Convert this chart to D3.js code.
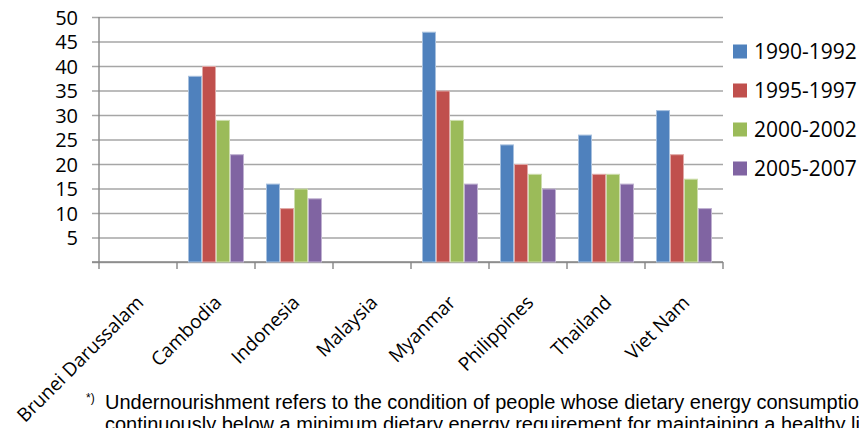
<!DOCTYPE html>
<html>
<head>
<meta charset="utf-8">
<script src="https://cdn.jsdelivr.net/npm/d3@7"></script>
<style>
  html, body { margin: 0; padding: 0; background: #fff; overflow: hidden; }
  svg { display: block; }
</style>
</head>
<body>
<svg id="chart" width="859" height="428"></svg>
<script>
// Prevalence of undernourishment (%) by country and period
const countries = ["Brunei Darussalam", "Cambodia", "Indonesia", "Malaysia",
                   "Myanmar", "Philippines", "Thailand", "Viet Nam"];
const periods = ["1990-1992", "1995-1997", "2000-2002", "2005-2007"];
const values1990 = [null, 38, 16, null, 47, 24, 26, 31];
const values1995 = [null, 40, 11, null, 35, 20, 18, 22];
const values2000 = [null, 29, 15, null, 29, 18, 18, 17];
const values2005 = [null, 22, 13, null, 16, 15, 16, 11];
const yTicks = [0, 5, 10, 15, 20, 25, 30, 35, 40, 45, 50];
const footnoteMark = "*)";
const footnoteLines = [
  "Undernourishment refers to the condition of people whose dietary energy consumption is",
  "continuously below a minimum dietary energy requirement for maintaining a healthy life"
];

const seriesValues = [values1990, values1995, values2000, values2005];
const colors = ["#4F81BD", "#C0504D", "#9BBB59", "#8064A2"];
const edgeColors = ["#A7C0DE", "#E0A8A6", "#CDDDAC", "#BFB1D0"];

const svg = d3.select("#chart");
const plot = { left: 99, right: 723, top: 17, bottom: 262 };
const uiFont = "'Open Sans', 'Noto Sans', sans-serif";

const y = d3.scaleLinear().domain([0, 50]).range([plot.bottom, plot.top]);
const x0 = d3.scaleBand().domain(countries).range([plot.left, plot.right]).padding(0);
const x1 = d3.scaleBand().domain(periods).range([0, x0.bandwidth()])
  .paddingInner(0).paddingOuter(0.786);

// Value axis with horizontal gridlines
const yAxis = svg.append("g")
  .attr("transform", `translate(${plot.left},0)`)
  .call(d3.axisLeft(y).tickValues(yTicks).tickSizeOuter(0)
    .tickFormat(d => d === 0 ? "" : d));
yAxis.select(".domain").remove();
yAxis.selectAll(".tick line")
  .attr("x1", -7).attr("x2", plot.right - plot.left)
  .attr("stroke", "#A6A6A6").attr("stroke-width", 1.4);
yAxis.selectAll(".tick text")
  .attr("x", -21).attr("dy", "0.35em")
  .attr("fill", "#000")
  .style("font-family", uiFont).style("font-size", "20px");

// Vertical axis line
svg.append("line")
  .attr("x1", plot.left).attr("x2", plot.left)
  .attr("y1", plot.top).attr("y2", plot.bottom)
  .attr("stroke", "#868686").attr("stroke-width", 1.4);

// Category axis baseline and boundary ticks
svg.append("line")
  .attr("x1", plot.left - 7).attr("x2", plot.right)
  .attr("y1", plot.bottom).attr("y2", plot.bottom)
  .attr("stroke", "#868686").attr("stroke-width", 1.4);
const boundaries = countries.map(c => x0(c)).concat([plot.right]);
svg.append("g").selectAll("line").data(boundaries).join("line")
  .attr("x1", d => d).attr("x2", d => d)
  .attr("y1", plot.bottom).attr("y2", plot.bottom + 7)
  .attr("stroke", "#868686").attr("stroke-width", 1.4);

// Bars
const groups = svg.append("g").selectAll("g").data(countries).join("g")
  .attr("transform", c => `translate(${x0(c)},0)`);
groups.selectAll("rect")
  .data((c, ci) => periods.map((p, pi) => ({ p, pi, v: seriesValues[pi][ci] }))
    .filter(d => d.v !== null))
  .join("rect")
  .attr("x", d => x1(d.p) + 0.5)
  .attr("width", x1.bandwidth() - 1)
  .attr("y", d => y(d.v) + 0.5)
  .attr("height", d => y(0) - y(d.v) - 0.5)
  .attr("fill", d => colors[d.pi])
  .attr("stroke", d => edgeColors[d.pi])
  .attr("stroke-width", 1);

// Rotated category labels
svg.append("g").selectAll("text").data(countries).join("text")
  .attr("transform", c => `translate(${x0(c) + x0.bandwidth() / 2 + 2},${plot.bottom + 37}) rotate(-45)`)
  .attr("text-anchor", "end")
  .attr("dy", "0.35em")
  .style("font-family", uiFont).style("font-size", "19px")
  .attr("fill", "#000")
  .text(c => c);

// Legend
const legend = svg.append("g").selectAll("g").data(periods).join("g")
  .attr("transform", (p, i) => `translate(733,${51.5 + i * 39})`);
legend.append("rect")
  .attr("x", 0).attr("y", -7).attr("width", 14).attr("height", 14)
  .attr("fill", (p, i) => colors[i]);
legend.append("text")
  .attr("x", 21).attr("dy", "0.36em")
  .style("font-family", uiFont).style("font-size", "21px")
  .attr("fill", "#000")
  .text(p => p);

// Footnote
svg.append("text")
  .attr("x", 86).attr("y", 402)
  .style("font-family", "'Liberation Sans', Arial, sans-serif").style("font-size", "12px")
  .attr("fill", "#000")
  .text(footnoteMark);
svg.append("g").selectAll("text").data(footnoteLines).join("text")
  .attr("x", 105).attr("y", (d, i) => 409 + i * 22)
  .style("font-family", "'Liberation Sans', Arial, sans-serif").style("font-size", "20px")
  .attr("fill", "#000")
  .text(d => d);
</script>
</body>
</html>
